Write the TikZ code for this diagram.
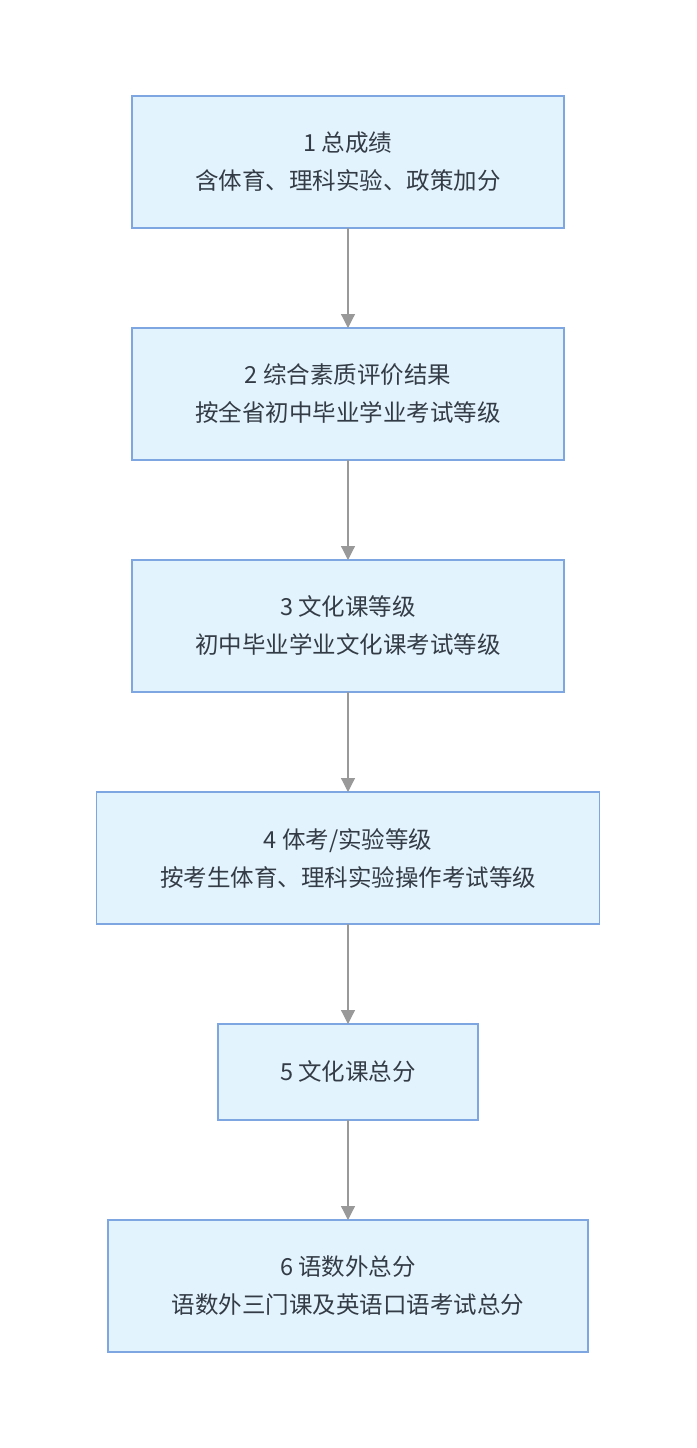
\documentclass[tikz,border=0pt]{standalone}
\usepackage{fontspec}
\usepackage{xcolor}
\usepackage{tikz}
\usetikzlibrary{arrows.meta,positioning}
\newfontfamily\cjk{Noto Sans CJK SC}
\definecolor{boxfill}{RGB}{227,243,253}
\definecolor{boxline}{RGB}{126,166,224}
\definecolor{linkgrey}{RGB}{153,153,153}
\definecolor{textdark}{RGB}{51,60,70}
\tikzset{
  stage/.style={rectangle,draw=boxline,line width=1.5pt,fill=boxfill,
    minimum height=132pt,align=center,inner sep=0pt,outer sep=0pt,
    text=textdark,font=\cjk\fontsize{23.5}{38}\selectfont},
  flow/.style={-{Triangle[length=14pt,width=14pt,fill=linkgrey]},
    line width=1.2pt,draw=linkgrey}
}
\begin{document}
\begin{tikzpicture}[x=1pt,y=1pt,node distance=100pt]
  \useasboundingbox (0,0) rectangle (696,-1448);
  \node[stage,minimum width=432pt] (total) at (348,-162)
    {1 总成绩\\含体育、理科实验、政策加分};
  \node[stage,minimum width=432pt,below=of total] (quality)
    {2 综合素质评价结果\\按全省初中毕业学业考试等级};
  \node[stage,minimum width=432pt,below=of quality] (culture)
    {3 文化课等级\\初中毕业学业文化课考试等级};
  \node[stage,minimum width=503pt,below=of culture] (sport)
    {4 体考/实验等级\\按考生体育、理科实验操作考试等级};
  \node[stage,minimum width=260pt,minimum height=96pt,below=of sport] (culturesum)
    {5 文化课总分};
  \node[stage,minimum width=480pt,below=of culturesum] (threesum)
    {6 语数外总分\\语数外三门课及英语口语考试总分};
  \draw[flow] (total) -- (quality);
  \draw[flow] (quality) -- (culture);
  \draw[flow] (culture) -- (sport);
  \draw[flow] (sport) -- (culturesum);
  \draw[flow] (culturesum) -- (threesum);
\end{tikzpicture}
\end{document}
